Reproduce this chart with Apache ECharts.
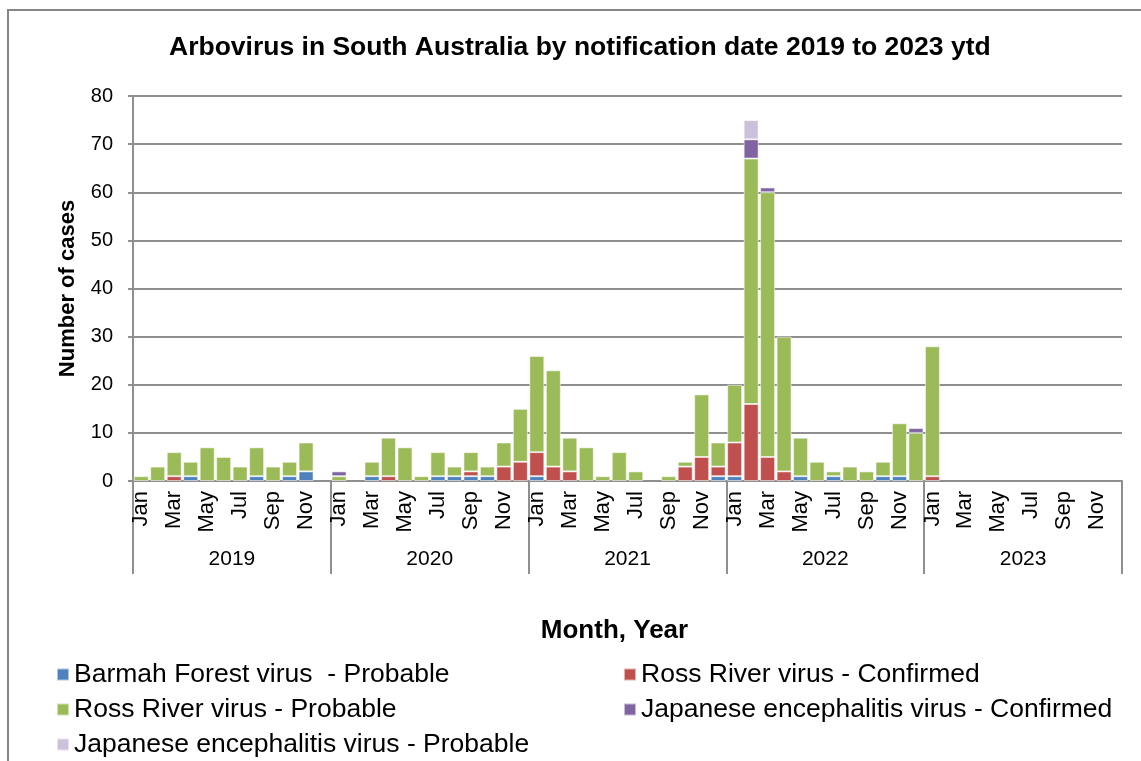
<!DOCTYPE html>
<html>
<head>
<meta charset="utf-8">
<script src="https://cdn.jsdelivr.net/npm/echarts@6/dist/echarts.min.js"></script>
<style>
html,body{margin:0;padding:0;background:#fff;}
#chart{width:1141px;height:761px;}
</style>
</head>
<body>
<div id="chart"></div>
<script>
const months = ['Jan','Feb','Mar','Apr','May','Jun','Jul','Aug','Sep','Oct','Nov','Dec'];
const years = ['2019','2020','2021','2022','2023'];
const yTicks = [0,10,20,30,40,50,60,70,80];

// Barmah Forest virus - Probable
const barmahProbable = [
  0,0,0,1,0,0,0,1,0,1,2,0,
  0,0,1,0,0,0,1,1,1,1,0,0,
  1,0,0,0,0,0,0,0,0,0,0,1,
  1,0,0,0,1,0,1,0,0,1,1,0,
  0,0,0,0,0,0,0,0,0,0,0,0
];
// Ross River virus - Confirmed
const rossConfirmed = [
  0,0,1,0,0,0,0,0,0,0,0,0,
  0,0,0,1,0,0,0,0,1,0,3,4,
  5,3,2,0,0,0,0,0,0,3,5,2,
  7,16,5,2,0,0,0,0,0,0,0,0,
  1,0,0,0,0,0,0,0,0,0,0,0
];
// Ross River virus - Probable
const rossProbable = [
  1,3,5,3,7,5,3,6,3,3,6,0,
  1,0,3,8,7,1,5,2,4,2,5,11,
  20,20,7,7,1,6,2,0,1,1,13,5,
  12,51,55,28,8,4,1,3,2,3,11,10,
  27,0,0,0,0,0,0,0,0,0,0,0
];
// Japanese encephalitis virus - Confirmed
const jeConfirmed = [
  0,0,0,0,0,0,0,0,0,0,0,0,
  1,0,0,0,0,0,0,0,0,0,0,0,
  0,0,0,0,0,0,0,0,0,0,0,0,
  0,4,1,0,0,0,0,0,0,0,0,1,
  0,0,0,0,0,0,0,0,0,0,0,0
];
// Japanese encephalitis virus - Probable
const jeProbable = [
  0,0,0,0,0,0,0,0,0,0,0,0,
  0,0,0,0,0,0,0,0,0,0,0,0,
  0,0,0,0,0,0,0,0,0,0,0,0,
  0,4,0,0,0,0,0,0,0,0,0,0,
  0,0,0,0,0,0,0,0,0,0,0,0
];

const seriesNames = [
  'Barmah Forest virus  - Probable',
  'Ross River virus - Confirmed',
  'Ross River virus - Probable',
  'Japanese encephalitis virus - Confirmed',
  'Japanese encephalitis virus - Probable'
];
const seriesColors = ['#4F81BD','#C0504D','#9BBB59','#8064A2','#CCC1DA'];
const seriesData = [barmahProbable, rossConfirmed, rossProbable, jeConfirmed, jeProbable];

const categories = [];
years.forEach(y => months.forEach(m => categories.push(m)));

const FONT = 'Arial, "Liberation Sans", sans-serif';
const GRID_COLOR = '#8f8f8f';

const chart = echarts.init(document.getElementById('chart'), null, {renderer: 'canvas'});
chart.setOption({
  animation: false,
  backgroundColor: '#fff',
  textStyle: {fontFamily: FONT, color: '#000'},
  title: {
    text: 'Arbovirus in South Australia by notification date 2019 to 2023 ytd',
    left: 169,
    top: 34,
    padding: 0,
    textStyle: {fontFamily: FONT, fontSize: 26.5, fontWeight: 'bold', color: '#000'}
  },
  graphic: [{
    type: 'rect',
    shape: {x: 8, y: 10, width: 1200, height: 800},
    style: {fill: 'none', stroke: '#868686', lineWidth: 2},
    silent: true,
    z: -10
  }],
  legend: [{
    orient: 'vertical',
    left: 56, top: 661, padding: 0,
    itemWidth: 12, itemHeight: 12, itemGap: 8,
    icon: 'rect',
    textStyle: {fontFamily: FONT, fontSize: 26.5, color: '#000'},
    data: [seriesNames[0], seriesNames[2], seriesNames[4]]
  }, {
    orient: 'vertical',
    left: 623, top: 661, padding: 0,
    itemWidth: 12, itemHeight: 12, itemGap: 8,
    icon: 'rect',
    textStyle: {fontFamily: FONT, fontSize: 26.5, color: '#000'},
    data: [seriesNames[1], seriesNames[3]]
  }],
  grid: {left: 133, right: 19, top: 96, bottom: 280, containLabel: false},
  xAxis: [{
    type: 'category',
    data: categories,
    position: 'bottom',
    axisLine: {show: true, lineStyle: {color: GRID_COLOR, width: 2}},
    axisTick: {show: false},
    axisLabel: {rotate: 90, interval: 1, fontSize: 22, margin: 10, color: '#000', fontFamily: FONT},
    name: 'Month, Year',
    nameLocation: 'middle',
    nameGap: 137,
    nameTextStyle: {fontFamily: FONT, fontSize: 26, fontWeight: 'bold', color: '#000', padding: [0, 26, 0, 0]}
  }, {
    type: 'category',
    data: years,
    position: 'bottom',
    offset: 0,
    axisLine: {show: false},
    axisTick: {show: true, interval: 0, length: 93, lineStyle: {color: GRID_COLOR, width: 2}},
    axisLabel: {interval: 0, fontSize: 21, margin: 68, color: '#000', fontFamily: FONT},
    splitLine: {show: false}
  }],
  yAxis: {
    type: 'value',
    min: yTicks[0], max: yTicks[yTicks.length - 1], interval: 10,
    axisLine: {show: true, lineStyle: {color: GRID_COLOR, width: 2}},
    axisTick: {show: true, length: 5, lineStyle: {color: GRID_COLOR, width: 2}},
    axisLabel: {fontSize: 20, margin: 20, color: '#000', fontFamily: FONT},
    splitLine: {show: true, lineStyle: {color: GRID_COLOR, width: 2}},
    name: 'Number of cases',
    nameLocation: 'middle',
    nameGap: 54,
    nameTextStyle: {fontFamily: FONT, fontSize: 22, fontWeight: 'bold', color: '#000'}
  },
  series: seriesData.map((arr, i) => ({
    type: 'bar',
    name: seriesNames[i],
    stack: 'total',
    xAxisIndex: 0,
    barWidth: '91%',
    itemStyle: {color: seriesColors[i], borderColor: 'rgba(255,255,255,0.55)', borderWidth: 1},
    data: arr.map(v => v === 0 ? null : v)
  }))
});
</script>
</body>
</html>
